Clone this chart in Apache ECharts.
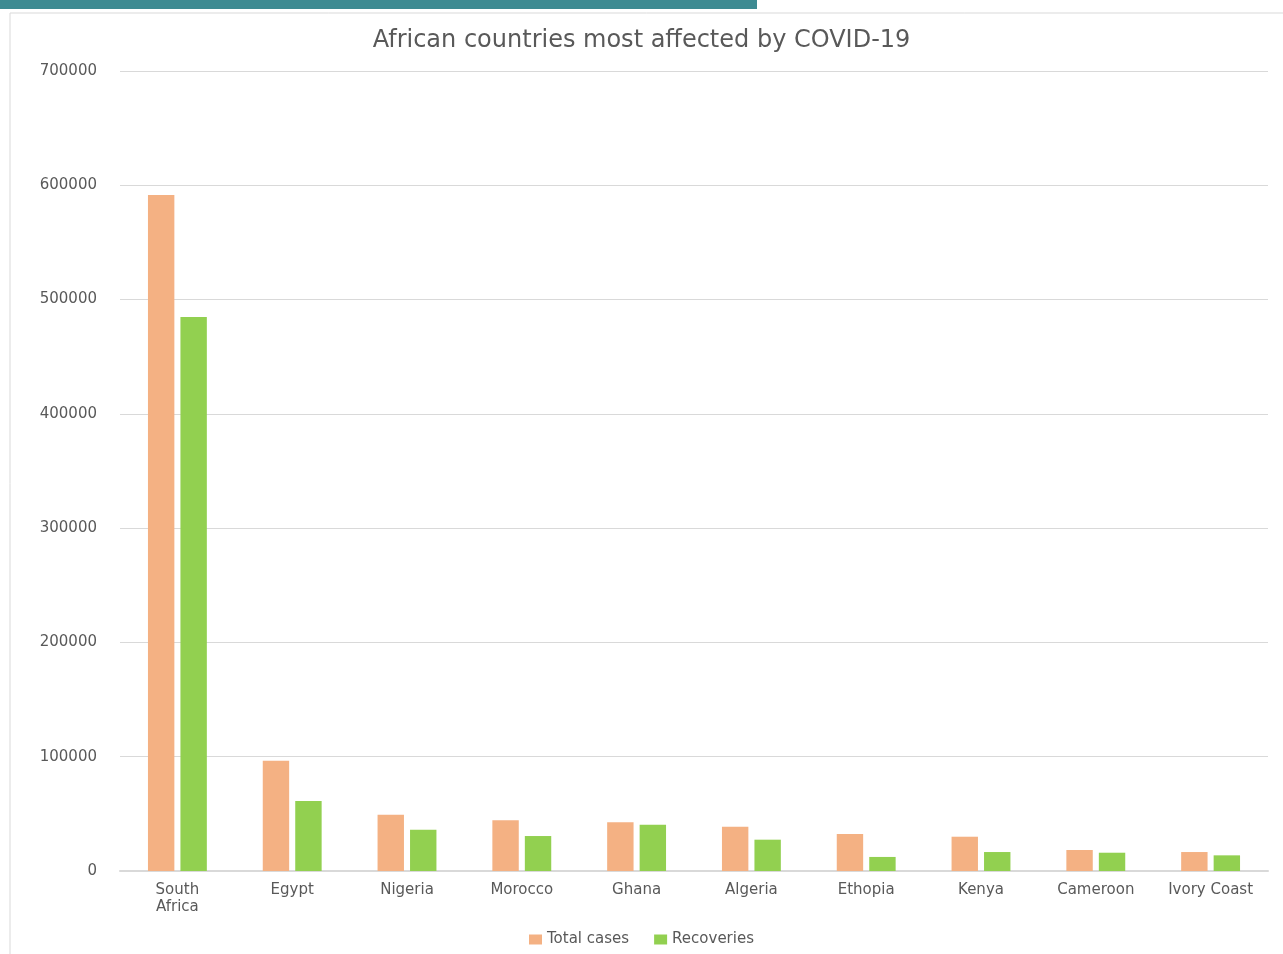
<!DOCTYPE html>
<html><head><meta charset="utf-8">
<script src="https://cdn.jsdelivr.net/npm/echarts@6/dist/echarts.min.js"></script>
<style>html,body{margin:0;padding:0;background:#fff}#c{width:1283px;height:954px}</style>
</head><body><div id="c"></div>
<script>
const categories = ['South\nAfrica','Egypt','Nigeria','Morocco','Ghana','Algeria','Ethopia','Kenya','Cameroon','Ivory Coast'];
const totalCases = [591500, 96500, 49300, 44300, 42600, 38800, 32400, 30000, 18400, 16600];
const recoveries = [484800, 61300, 36200, 30600, 40500, 27400, 12300, 16600, 16000, 13700];
const yTicks = [0, 100000, 200000, 300000, 400000, 500000, 600000, 700000];

const chart = echarts.init(document.getElementById('c'));
const font = 'DejaVu Sans';
chart.setOption({
  animation: false,
  backgroundColor: '#fff',
  title: {
    text: 'African countries most affected by COVID-19',
    left: 'center', top: 24,
    textStyle: { fontFamily: font, fontSize: 24, fontWeight: 'normal', color: '#595959' }
  },
  graphic: [
    { type: 'rect', shape: { x: 0, y: 0, width: 757, height: 9 }, style: { fill: '#3E8B92' } },
    { type: 'line', shape: { x1: 10, y1: 13, x2: 1283, y2: 13 }, style: { stroke: '#d9d9d9', lineWidth: 1 } },
    { type: 'line', shape: { x1: 10, y1: 13, x2: 10, y2: 954 }, style: { stroke: '#d9d9d9', lineWidth: 1 } }
  ],
  legend: {
    bottom: 2, left: 'center',
    itemWidth: 13, itemHeight: 10, itemGap: 25,
    icon: 'rect',
    textStyle: { fontFamily: font, fontSize: 15, color: '#595959' },
    data: ['Total cases', 'Recoveries']
  },
  grid: { left: 120, right: 15, top: 71, bottom: 83, containLabel: false },
  xAxis: {
    type: 'category', data: categories,
    axisLine: { lineStyle: { color: '#d9d9d9', width: 2 } },
    axisTick: { show: false },
    axisLabel: { fontFamily: font, fontSize: 15, color: '#595959', margin: 11, interval: 0, lineHeight: 17 }
  },
  yAxis: {
    type: 'value', min: yTicks[0], max: yTicks[yTicks.length - 1], interval: 100000,
    axisLine: { show: false }, axisTick: { show: false },
    splitLine: { lineStyle: { color: '#d9d9d9', width: 1 } },
    axisLabel: { fontFamily: font, fontSize: 15, color: '#595959', margin: 23, formatter: v => String(v) }
  },
  series: [
    { name: 'Total cases', type: 'bar', data: totalCases, barWidth: '23%', barGap: '23%',
      itemStyle: { color: '#F4B183' } },
    { name: 'Recoveries', type: 'bar', data: recoveries, barWidth: '23%', barGap: '23%',
      itemStyle: { color: '#92D050' } }
  ]
});
</script></body></html>
